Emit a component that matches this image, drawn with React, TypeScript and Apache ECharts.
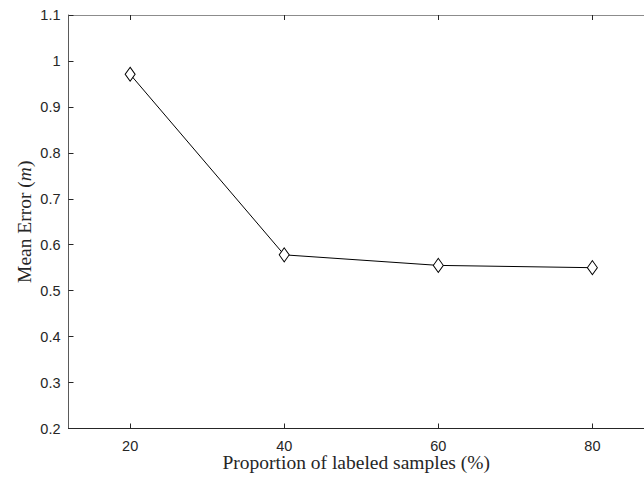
import React, { useEffect, useRef } from "react";
import * as echarts from "echarts";

const proportions = [20, 40, 60, 80];
const meanError = [0.971, 0.578, 0.555, 0.55];
const xTicks = [20, 40, 60, 80];

export default function App() {
  const ref = useRef<HTMLDivElement>(null);
  useEffect(() => {
    const chart = echarts.init(ref.current!, null, { renderer: "svg" });
    const tickFont = { fontFamily: "Liberation Sans, Arial, sans-serif", fontSize: 14.5, color: "#262626" };
    const serif = "Liberation Serif, Times New Roman, serif";
    chart.setOption({
      animation: false,
      backgroundColor: "#ffffff",
      grid: { left: 68.5, top: 15, bottom: 48.5, right: 0, containLabel: false, outerBoundsMode: "none" },
      xAxis: [
        {
          type: "value",
          min: 12,
          max: 86.7,
          position: "bottom",
          name: "Proportion of labeled samples (%)",
          nameLocation: "middle",
          nameGap: 24,
          nameMoveOverlap: false,
          nameTextStyle: { fontFamily: serif, fontSize: 19.5, lineHeight: 20, color: "#262626" },
          axisLine: { show: true, lineStyle: { color: "#262626", width: 1 } },
          axisTick: { show: true, inside: true, length: 5, customValues: xTicks, lineStyle: { color: "#262626" } },
          axisLabel: { ...tickFont, lineHeight: 13, customValues: xTicks, margin: 10.5 },
          splitLine: { show: false },
        },
        {
          type: "value",
          min: 12,
          max: 86.7,
          position: "top",
          axisLine: { show: true, lineStyle: { color: "#8c8c8c", width: 1 } },
          axisTick: { show: true, inside: true, length: 5, customValues: xTicks, lineStyle: { color: "#262626" } },
          axisLabel: { show: false },
          splitLine: { show: false },
        },
      ],
      yAxis: {
        type: "value",
        min: 0.2,
        max: 1.1,
        interval: 0.1,
        name: "{n|Mean Error (}{i|m}{n|)}",
        nameLocation: "middle",
        nameGap: 34,
        nameMoveOverlap: false,
        nameTextStyle: {
          rich: {
            n: { fontFamily: serif, fontSize: 19.5, color: "#262626" },
            i: { fontFamily: serif, fontSize: 19.5, fontStyle: "italic", color: "#262626" },
          },
        },
        axisLine: { show: true, lineStyle: { color: "#5a5a5a", width: 1 } },
        axisTick: { show: true, inside: true, length: 5, lineStyle: { color: "#262626" } },
        axisLabel: { ...tickFont, margin: 8, formatter: (v: number) => String(Math.round(v * 10) / 10) },
        splitLine: { show: false },
      },
      series: [
        {
          type: "line",
          data: proportions.map((p, i) => [p, meanError[i]]),
          symbol: "diamond",
          symbolSize: [10, 14],
          showSymbol: true,
          lineStyle: { color: "#000000", width: 1 },
          itemStyle: { color: "#ffffff", borderColor: "#000000", borderWidth: 1 },
          z: 3,
        },
      ],
    });
    return () => chart.dispose();
  }, []);
  return <div ref={ref} style={{ width: 644, height: 477, position: "absolute", left: 0, top: 0 }} />;
}
